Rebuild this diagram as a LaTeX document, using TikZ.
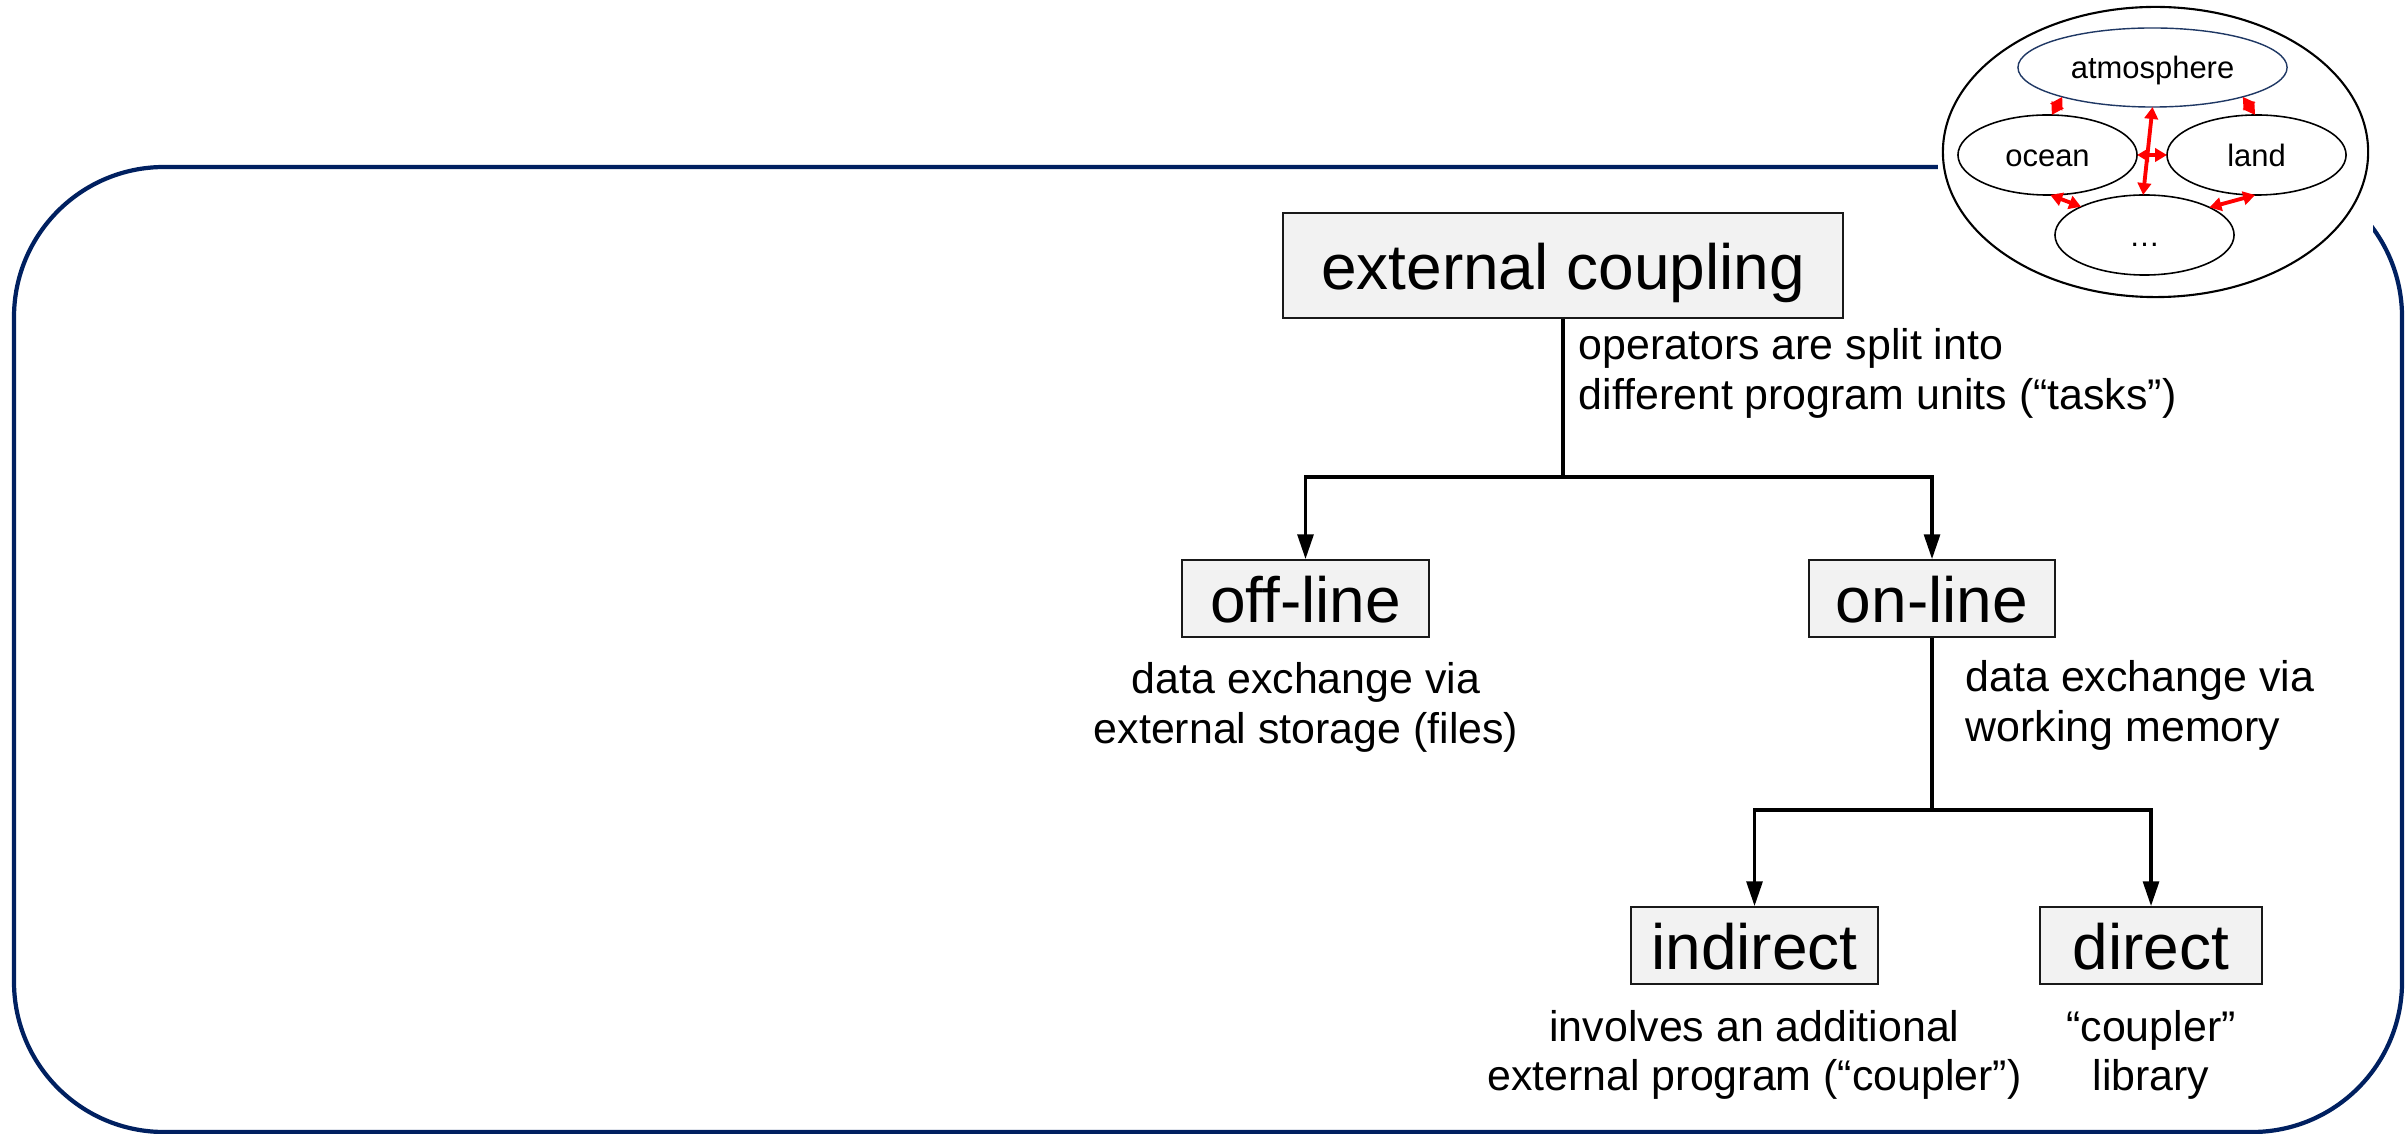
\documentclass[tikz,border=0pt]{standalone}
\usepackage{fontspec}
\setmainfont{Liberation Sans}
\usetikzlibrary{arrows.meta,shapes.geometric}
\definecolor{frameblue}{HTML}{002060}
\definecolor{boxfill}{HTML}{F2F2F2}
\definecolor{atmblue}{HTML}{1F3864}
\tikzset{
  frame/.style={draw=frameblue, line width=1.2pt, rounded corners=1.5cm},
  termbox/.style={draw=black!90, line width=0.5pt, fill=boxfill, inner sep=0pt,
    font=\fontsize{18.2}{22}\selectfont, text height=13.7pt, text depth=0pt},
  lbl/.style={inner sep=0pt, font=\fontsize{12.2}{14.2}\selectfont},
  link/.style={draw=black, line width=0.9pt},
  tip/.style={-{Triangle[length=7pt,width=4.5pt]}},
  comp/.style={ellipse, draw=black, line width=0.45pt, fill=white, inner sep=0pt,
    outer sep=0pt, font=\fontsize{8.8}{10.5}\selectfont, text height=6.3pt, text depth=0pt},
  exch/.style={draw=red, line width=1.1pt,
    {Triangle[length=3.4pt,width=3.8pt]}-{Triangle[length=3.4pt,width=3.8pt]}}
}
\begin{document}
\begin{tikzpicture}[x=0.01cm, y=-0.01cm]
\useasboundingbox (0,0) rectangle (2407,1134);

% rounded frame around the classification tree
\draw[frame] (14,167) rectangle (2402,1132);
% white backdrop of the component sketch in the top right corner
\fill[white] (1938,0) rectangle (2373,300);

% component sketch: model components exchanging data
\node[ellipse, draw=black, line width=0.6pt, fill=white, inner sep=0pt, outer sep=0pt,
  minimum width=4.25cm, minimum height=2.9cm] (system) at (2155.5,152) {};
\node[comp, draw=atmblue, line width=0.4pt, minimum width=2.69cm, minimum height=0.79cm]
  (atm) at (2152.5,67.5) {atmosphere};
\node[comp, minimum width=1.79cm, minimum height=0.8cm] (ocean) at (2047.5,155) {ocean};
\node[comp, minimum width=1.79cm, minimum height=0.8cm] (land) at (2256.5,155) {land};
\node[comp, minimum width=1.79cm, minimum height=0.8cm] (other) at (2144.5,235) {…};

\draw[exch] (atm.198) -- (ocean.84);
\draw[exch] (atm.342) -- (land.92);
\draw[exch] (atm.270) -- (other.92);
\draw[exch] (ocean.0) -- (land.180);
\draw[exch] (ocean.274) -- (other.156);
\draw[exch] (land.268) -- (other.23);

% classification tree
\node[termbox, minimum width=5.6cm, minimum height=1.05cm] (ext) at (1563,265.5) {external coupling};
\node[termbox, minimum width=2.47cm, minimum height=0.77cm] (offline) at (1305.5,598.5) {off-line};
\node[termbox, minimum width=2.46cm, minimum height=0.77cm] (online) at (1932,598.5) {on-line};
\node[termbox, minimum width=2.47cm, minimum height=0.77cm] (indirect) at (1754.5,945.5) {indirect};
\node[termbox, minimum width=2.22cm, minimum height=0.77cm] (direct) at (2151,945.5) {direct};

\coordinate (split) at (1563,477);
\coordinate (memsplit) at (1932,810);

\draw[link] (ext.south) -- (split);
\draw[link, tip] (split) -| (offline.north);
\draw[link, tip] (split) -| (online.north);
\draw[link] (online.south) -- (memsplit);
\draw[link, tip] (memsplit) -| (indirect.north);
\draw[link, tip] (memsplit) -| (direct.north);

% explanatory labels
\node[lbl, anchor=base west] (extA) at (1578,360) {operators are split into};
\node[lbl, anchor=base west] (extB) at (1578,410) {different program units (“tasks”)};
\node[lbl, anchor=base] (offA) at (1306,693) {data exchange via};
\node[lbl, anchor=base] (offB) at (1306,743) {external storage (files)};
\node[lbl, anchor=base west] (onA) at (1965,691) {data exchange via};
\node[lbl, anchor=base west] (onB) at (1965,741) {working memory};
\node[lbl, anchor=base] (indA) at (1754.5,1041) {involves an additional};
\node[lbl, anchor=base] (indB) at (1754.5,1090) {external program (“coupler”)};
\node[lbl, anchor=base] (dirA) at (2151,1041) {“coupler”};
\node[lbl, anchor=base] (dirB) at (2151,1090) {library};
\end{tikzpicture}
\end{document}
